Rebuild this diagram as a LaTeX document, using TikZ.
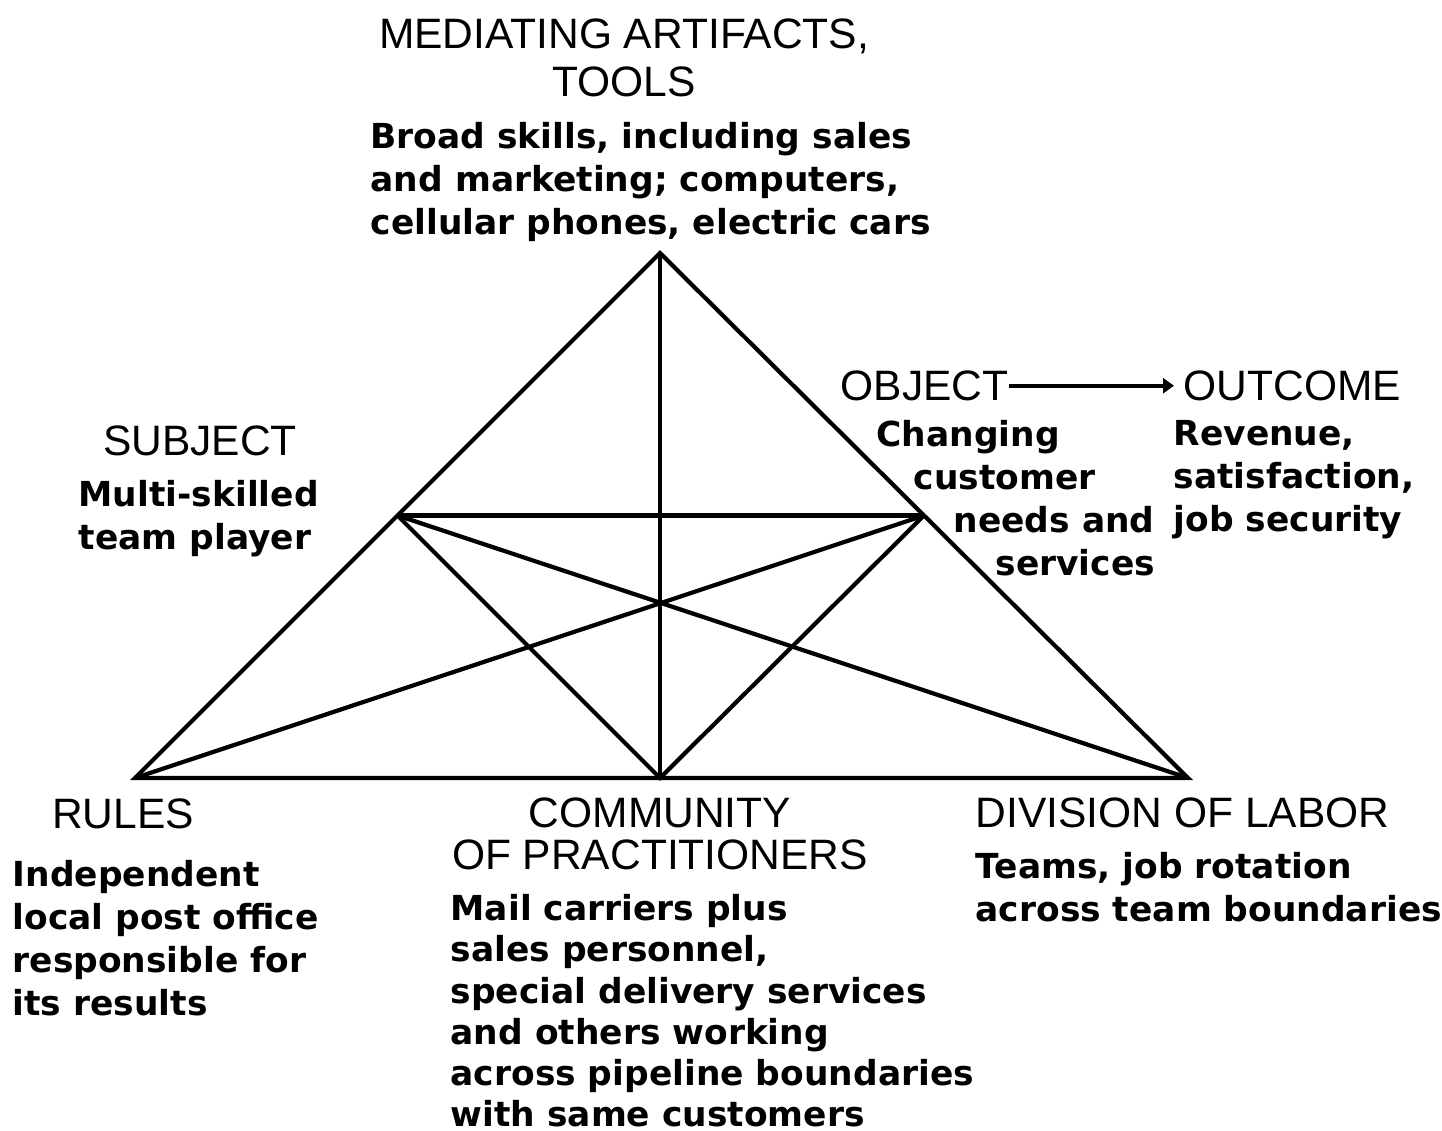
\documentclass[tikz,border=0pt]{standalone}
\usepackage{fontspec}
\setmainfont{Liberation Sans}
\newfontfamily\bodyfont{DejaVu Sans}
\usetikzlibrary{arrows.meta}

\begin{document}
\begin{tikzpicture}[
    heading/.style={inner sep=0pt, font=\fontsize{12.1}{13.6}\selectfont},
    body/.style={inner sep=0pt, align=left, anchor=north west,
      font=\bodyfont\bfseries\fontsize{9.8}{12.2}\selectfont},
    edge/.style={line width=1.2pt}]
  \useasboundingbox (0,0) rectangle (14.42,11.31);

  \coordinate (top) at (6.60,8.78);
  \coordinate (left) at (1.35,3.53);
  \coordinate (right) at (11.88,3.53);
  \coordinate (mid) at (6.60,3.53);
  \coordinate (subj) at (3.975,6.155);
  \coordinate (obj) at (9.24,6.155);

  \draw[edge] (left) -- (top) -- (right) -- cycle;
  \draw[edge] (top) -- (mid);
  \draw[edge] (subj) -- (obj);
  \draw[edge] (subj) -- (right);
  \draw[edge] (obj) -- (left);
  \draw[edge] (subj) -- (mid) -- (obj);

  \node[heading, anchor=north, align=center] (tools) at (6.24,11.13) {MEDIATING ARTIFACTS,\\TOOLS};
  \node[body] (toolstext) at (3.70,10.09) {Broad skills, including sales\\and marketing; computers,\\cellular phones, electric cars};

  \node[heading, anchor=north] (subject) at (2.00,7.06) {SUBJECT};
  \node[body] (subjecttext) at (0.78,6.51) {Multi-skilled\\team player};

  \node[heading, anchor=north west] (object) at (8.40,7.61) {OBJECT};
  \node[heading, anchor=north west] (outcome) at (11.83,7.61) {OUTCOME};
  \draw[edge, -{Triangle[length=1.1mm,width=1.5mm]}, shorten >=0.09cm] (object) -- (outcome);
  \node[body] (objecttext) at (8.76,7.11) {Changing\\\hspace*{0.37cm}customer\\\hspace*{0.77cm}needs and\\\hspace*{1.19cm}services};
  \node[body] (outcometext) at (11.73,7.11) {Revenue,\\satisfaction,\\job security};

  \node[heading, anchor=north] (rules) at (1.23,3.33) {RULES};
  \node[body] (rulestext) at (0.12,2.71) {Independent\\local post office\\responsible for\\its results};

  \node[heading, anchor=north, align=center, font=\fontsize{12.1}{11.9}\selectfont] (community) at (6.60,3.34) {COMMUNITY\\OF PRACTITIONERS};
  \node[body, font=\bodyfont\bfseries\fontsize{9.8}{11.7}\selectfont] (communitytext) at (4.50,2.37) {Mail carriers plus\\sales personnel,\\special delivery services\\and others working\\across pipeline boundaries\\with same customers};

  \node[heading, anchor=north west] (labor) at (9.75,3.34) {DIVISION OF LABOR};
  \node[body] (labortext) at (9.75,2.79) {Teams, job rotation\\across team boundaries};
\end{tikzpicture}
\end{document}
